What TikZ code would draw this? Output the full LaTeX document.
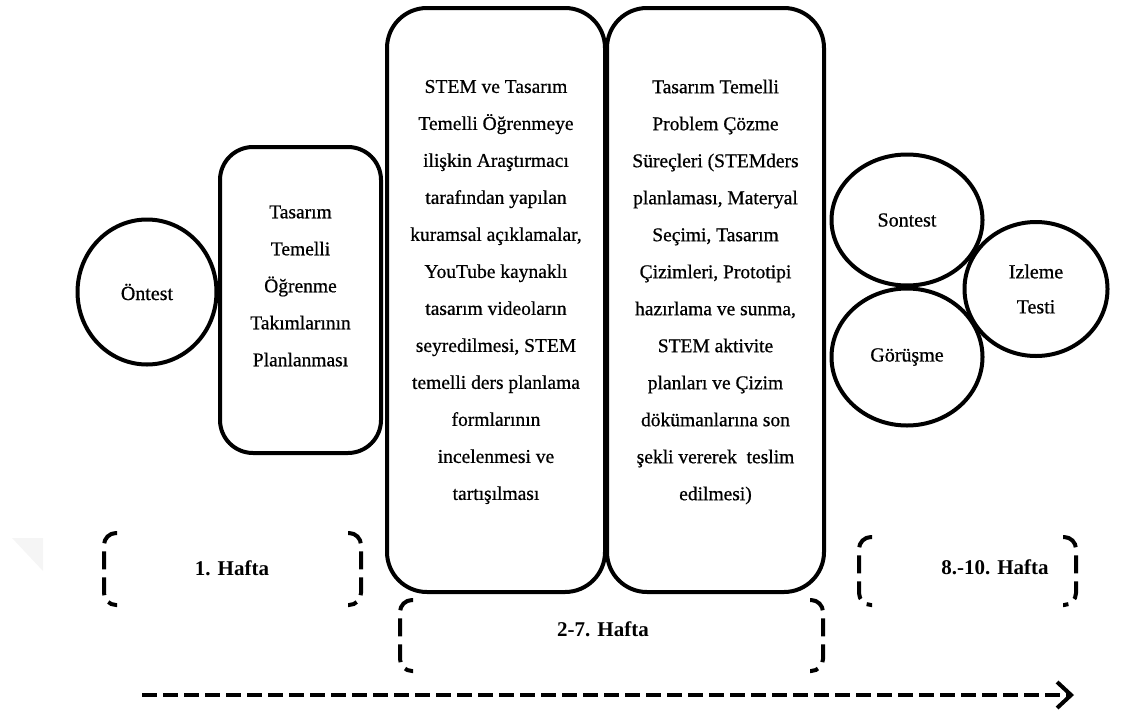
\documentclass[tikz,border=0pt]{standalone}
\usepackage{fontspec}
\setmainfont{Liberation Serif}
\newfontfamily\heavyserif{Liberation Serif}[FakeBold=0.7]
\usetikzlibrary{shapes.geometric,arrows.meta}

\begin{document}
\begin{tikzpicture}[x=1pt,y=-1pt,
  every node/.style={inner sep=0pt, align=center},
  stage/.style={draw, line width=4pt, rounded corners=#1},
  stage/.default=40,
  stagetext/.style={font=\heavyserif\fontsize{19.5}{37}\selectfont, align=center},
  ring/.style={draw, ellipse, line width=4pt, font=\heavyserif\fontsize{20}{35}\selectfont},
  weekbrk/.style={line width=4pt, dash pattern=on 18pt off 8pt, rounded corners=12pt},
  weeklbl/.style={font=\fontsize{21}{25}\selectfont\bfseries},
  timeline/.style={line width=4pt, dash pattern=on 15pt off 6pt,
    -{Straight Barb[length=14pt,width=26pt]}},
]
\useasboundingbox (0,0) rectangle (1121,715);

% faint corner mark
\fill[gray!8] (12,538) -- (43,538) -- (43,571) -- cycle;

% pre-test
\node[ring, minimum width=139pt, minimum height=145pt] (ontest) at (147,292) {Öntest};

% week 1 planning box
\node[stage=33, minimum width=161pt, minimum height=306pt,
  label={[stagetext, yshift=14pt]center:Tasarım\\Temelli\\Öğrenme\\Takımlarının\\Planlanması}]
  (plan) at (300.5,300) {};

% weeks 2-7 boxes
\node[stage, minimum width=218pt, minimum height=584pt,
  label={[stagetext, yshift=8pt]center:STEM ve Tasarım\\Temelli Öğrenmeye\\ilişkin Araştırmacı\\tarafından yapılan\\kuramsal açıklamalar,\\YouTube kaynaklı\\tasarım videoların\\seyredilmesi, STEM\\temelli ders planlama\\formlarının\\incelenmesi ve\\tartışılması}]
  (theory) at (496,300) {};
\node[stage, minimum width=217pt, minimum height=584pt,
  label={[stagetext, yshift=8pt]center:Tasarım Temelli\\Problem Çözme\\Süreçleri (STEMders\\planlaması, Materyal\\Seçimi, Tasarım\\Çizimleri, Prototipi\\hazırlama ve sunma,\\STEM aktivite\\planları ve Çizim\\dökümanlarına son\\şekli vererek \ teslim\\edilmesi)}]
  (design) at (715.5,300) {};

% post-test, interview, follow-up
\node[ring, minimum width=151pt, minimum height=131pt] (sontest) at (907,220) {Sontest};
\node[ring, minimum width=151pt, minimum height=137pt] (gorusme) at (907,357) {Görüşme};
\node[ring, minimum width=143pt, minimum height=134pt] (izleme) at (1036,289) {Izleme\\Testi};

% week brackets
\draw[weekbrk] (117,533) -- (104,533) -- (104,605) -- (117,605);
\draw[weekbrk] (348,533) -- (361,533) -- (361,605) -- (348,605);
\node[weeklbl] (w1) at (232,568) {1. Hafta};

\draw[weekbrk] (413,600) -- (400,600) -- (400,671) -- (413,671);
\draw[weekbrk] (810,600) -- (823,600) -- (823,671) -- (810,671);
\node[weeklbl] (w27) at (603,629) {2-7. Hafta};

\draw[weekbrk] (872,537) -- (859,537) -- (859,605) -- (872,605);
\draw[weekbrk] (1063,537) -- (1076,537) -- (1076,605) -- (1063,605);
\node[weeklbl] (w810) at (995,567) {8.-10. Hafta};

% time axis
\coordinate (tstart) at (142,695);
\coordinate (tend) at (1074,695);
\draw[timeline] (tstart) -- (tend);
\end{tikzpicture}
\end{document}
